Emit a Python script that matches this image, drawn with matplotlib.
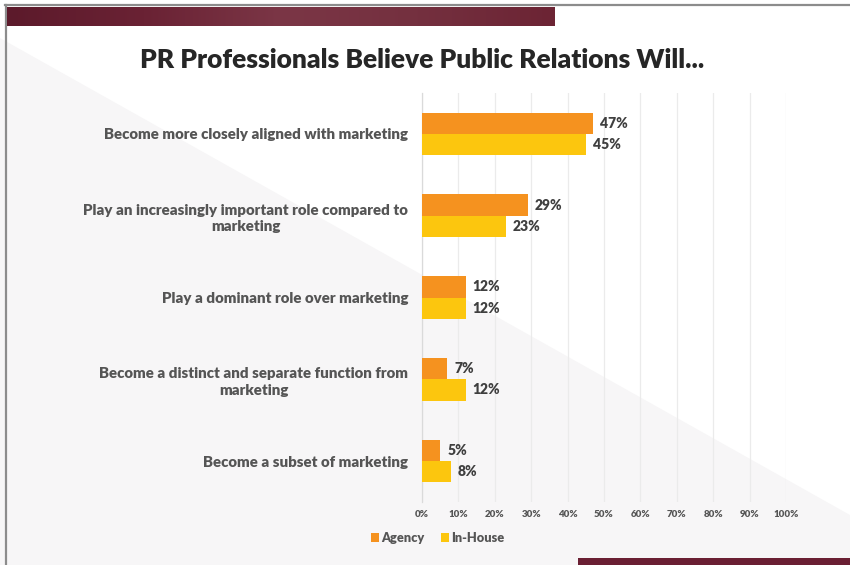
import matplotlib
matplotlib.use("Agg")
import matplotlib.pyplot as plt
import numpy as np
from matplotlib.patches import Polygon, Rectangle, Patch
from matplotlib.colors import LinearSegmentedColormap

plt.rcParams['font.family'] = ['Lato', 'DejaVu Sans']

# ---- data ----
categories = [
    "Become more closely aligned with marketing",
    "Play an increasingly important role compared to\nmarketing",
    "Play a dominant role over marketing",
    "Become a distinct and separate function from\nmarketing",
    "Become a subset of marketing",
]
agency = [47, 29, 12, 7, 5]
in_house = [45, 23, 12, 12, 8]
series_names = ["Agency", "In-House"]
x_ticks = [0, 10, 20, 30, 40, 50, 60, 70, 80, 90, 100]
title = "PR Professionals Believe Public Relations Will..."

C_AGENCY = "#F5921F"
C_INHOUSE = "#FCC60E"
TXT = "#555555"

W, H = 850, 565
fig = plt.figure(figsize=(W / 100, H / 100), dpi=100, facecolor="white")

def fx(px):
    return px / W

def fy(py):
    return 1 - py / H

# slide background layer (pixel coordinates, origin top-left)
bg_ax = fig.add_axes([0, 0, 1, 1], zorder=-10)
bg_ax.set_axis_off()
bg_ax.add_patch(Polygon([(0, 38), (W, 515), (W, H), (0, H)], closed=True,
                        facecolor="#F7F6F7", edgecolor="none"))
bg_ax.plot([5, W], [5, 5], color="#8C8C8C", lw=1.6)
bg_ax.plot([6, 6], [5, H], color="#8C8C8C", lw=1.6)
bg_ax.add_patch(Rectangle((578, 558), W - 578, H - 558, facecolor="#6A1F33", edgecolor="none"))

# maroon header band with a soft horizontal gradient
grad = np.linspace(0, 1, 256).reshape(1, -1)
cmap = LinearSegmentedColormap.from_list(
    "band", ["#5C1A2B", "#6A2234", "#7B3646", "#74303F", "#6C2434"])
bg_ax.imshow(grad, aspect="auto", cmap=cmap, extent=[7, 555, 26, 7], zorder=2)
bg_ax.set_xlim(0, W)
bg_ax.set_ylim(H, 0)

# ---- chart ----
ax = fig.add_axes([fx(422), fy(502), fx(786) - fx(422), fy(93) - fy(502)])
ax.set_facecolor("none")

y = np.arange(len(categories))
bh = 0.26
bars_a = ax.barh(y - bh / 2, agency, height=bh, color=C_AGENCY, zorder=3)
bars_i = ax.barh(y + bh / 2, in_house, height=bh, color=C_INHOUSE, zorder=3)

for bars, vals in ((bars_a, agency), (bars_i, in_house)):
    for b, v in zip(bars, vals):
        ax.annotate(f"{v}%", (v, b.get_y() + b.get_height() / 2),
                    xytext=(5, 0), textcoords="offset points",
                    va="center", ha="left", fontsize=10, fontweight="heavy",
                    color="#3F3F3F")

ax.set_xlim(0, 100)
ax.set_ylim(len(categories) - 0.5, -0.5)
ax.set_xticks(x_ticks)
ax.set_xticklabels([f"{t}%" for t in x_ticks], fontsize=7, fontweight="heavy", color=TXT)
ax.set_yticks(y)
ax.set_yticklabels(categories, fontsize=10.8, fontweight="heavy", color=TXT,
                   multialignment="center", linespacing=1.3)
ax.tick_params(axis="both", length=0)
ax.tick_params(axis="y", pad=10)
ax.tick_params(axis="x", pad=6)
ax.grid(axis="x", color="#EBEBEB", lw=0.9, zorder=0)
for s in ("top", "right", "bottom"):
    ax.spines[s].set_visible(False)
ax.spines["left"].set_color("#DADADA")
ax.spines["left"].set_linewidth(0.9)

handles = [Patch(facecolor=C_AGENCY), Patch(facecolor=C_INHOUSE)]
fig.legend(handles, series_names, loc="center", bbox_to_anchor=(fx(438), fy(538)),
           ncol=2, frameon=False, handlelength=0.6, handleheight=0.6,
           handletextpad=0.2, columnspacing=1.3,
           prop={"weight": "heavy", "size": 9.2}, labelcolor=TXT)

fig.text(fx(422), fy(60), title, ha="center", va="center", fontsize=19,
         fontweight="heavy", color="#262626")

fig.savefig("out.png", dpi=100, facecolor=fig.get_facecolor())
